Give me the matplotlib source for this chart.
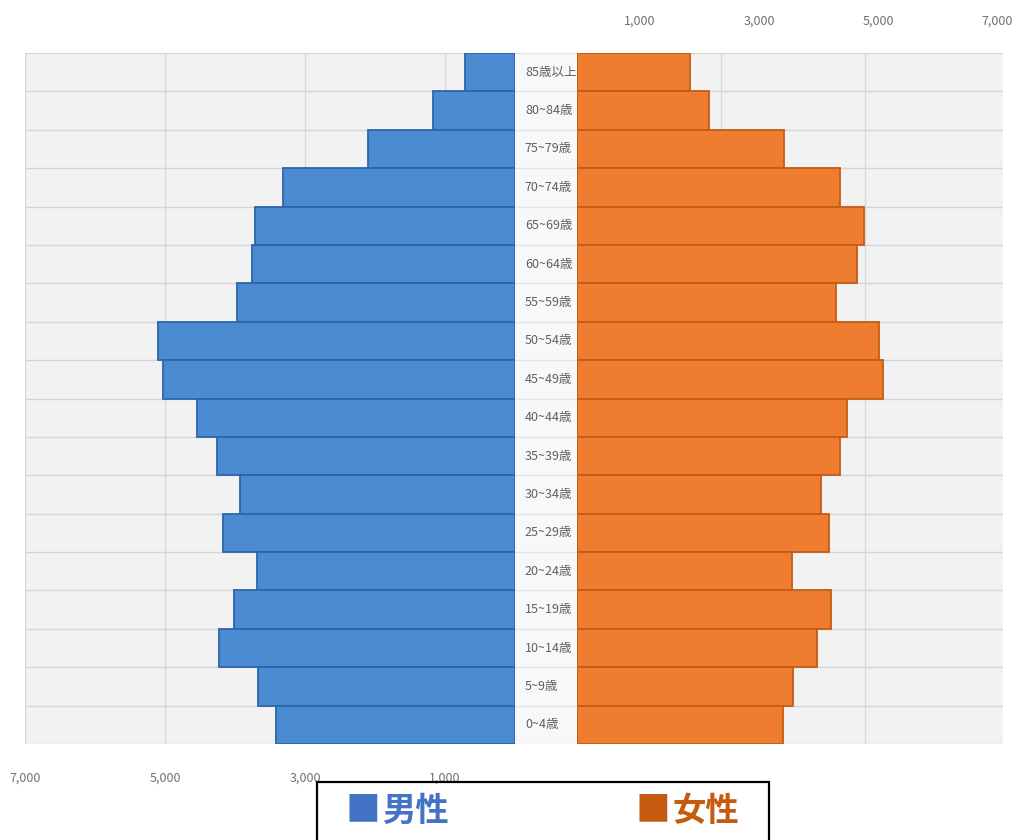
import matplotlib

matplotlib.use("Agg")
import matplotlib.pyplot as plt
from matplotlib.patches import Rectangle
import numpy as np

# age groups, top of pyramid first
AGES = ["85歳以上", "80~84歳", "75~79歳", "70~74歳", "65~69歳", "60~64歳",
        "55~59歳", "50~54歳", "45~49歳", "40~44歳", "35~39歳", "30~34歳",
        "25~29歳", "20~24歳", "15~19歳", "10~14歳", "5~9歳", "0~4歳"]
MALE = [714, 1171, 2100, 3314, 3714, 3757, 3971, 5100, 5029, 4543, 4257, 3929,
        4171, 3686, 4014, 4229, 3671, 3414]
FEMALE = [1569, 1833, 2875, 3653, 3986, 3889, 3597, 4194, 4250, 3750, 3653, 3389,
          3500, 2986, 3528, 3333, 3000, 2861]
LEFT_TICKS = [7000, 5000, 3000, 1000]
RIGHT_TICKS = [1000, 3000, 5000, 7000]
RIGHT_GRID = [2000, 4000]
LEGEND = ["男性", "女性"]

W, H = 1026, 840
BLUE, BLUE_EDGE = "#4a8bd2", "#2b66ab"
ORANGE, ORANGE_EDGE = "#ef7d2f", "#c45c14"
BG = "#f2f2f2"
NARROW = ["Liberation Sans Narrow", "Noto Sans CJK JP", "DejaVu Sans"]

n = len(AGES)
y = np.arange(n)[::-1]

fig = plt.figure(figsize=(W / 100, H / 100), dpi=100)
top, bot = 53, 744
yb, hh = (H - bot) / H, (bot - top) / H
axL = fig.add_axes([25 / W, yb, 490 / W, hh])
axM = fig.add_axes([515 / W, yb, 62 / W, hh])
axR = fig.add_axes([577 / W, yb, 426 / W, hh])

for ax in (axL, axM, axR):
    ax.set_ylim(-0.5, n - 0.5)
    ax.set_yticks([])
    ax.set_yticks(np.arange(-0.5, n, 1), minor=True)
    ax.tick_params(which="both", length=0)
    ax.grid(axis="y", which="minor", color="#d4d4d4", lw=1)
    ax.set_axisbelow(True)
    for s in ax.spines.values():
        s.set_visible(False)

# ---- male (left) ----
axL.set_facecolor(BG)
axL.barh(y, MALE, height=1.0, color=BLUE, edgecolor=BLUE_EDGE, lw=1.3, zorder=3)
axL.set_xlim(7000, 0)
axL.set_xticks(LEFT_TICKS)
axL.set_xticklabels([f"{v:,}" for v in LEFT_TICKS], family=NARROW)
axL.tick_params(axis="x", pad=20, labelsize=9, labelcolor="#707070")
axL.grid(axis="x", color="#dadada", lw=1)

# ---- age labels (centre) ----
axM.set_facecolor("#f8f8fa")
axM.set_xlim(0, 1)
axM.set_xticks([])
axM.grid(axis="y", which="minor", color="#e4e4e4", lw=1)
for yi, lab in zip(y, AGES):
    axM.text(0.16, yi, lab, ha="left", va="center", fontsize=9, color="#606060",
             family=NARROW, clip_on=True)

# ---- female (right) ----
axR.set_facecolor(BG)
axR.barh(y, FEMALE, height=1.0, color=ORANGE, edgecolor=ORANGE_EDGE, lw=1.3, zorder=3)
axR.set_xlim(0, 5920)
axR.set_xticks(RIGHT_GRID)
axR.set_xticklabels([])
axR.grid(axis="x", color="#dadada", lw=1)

axT = axR.twiny()
axT.set_xlim(-60, 7100)
axT.set_xticks(RIGHT_TICKS)
axT.set_xticklabels([f"{v:,}" for v in RIGHT_TICKS], family=NARROW)
axT.tick_params(axis="x", length=0, pad=18, labelsize=9, labelcolor="#707070")
for s in axT.spines.values():
    s.set_visible(False)

# ---- legend box ----
fig.add_artist(Rectangle((317 / W, -0.1), (769 - 317) / W, 0.1 + 1 - 782 / H,
                         transform=fig.transFigure, fill=False, edgecolor="black",
                         lw=1.6, clip_on=False))
for xpx, lab, col in [(346, LEGEND[0], "#4472c4"), (636, LEGEND[1], "#c55a11")]:
    fig.text(xpx / W, 1 - 811 / H, "■", fontsize=25, color=col,
             family="Noto Sans CJK JP", ha="left", va="center")
    fig.text((xpx + 36) / W, 1 - 811 / H, lab, fontsize=24, color=col,
             family="Noto Sans CJK JP", weight="bold", ha="left", va="center")

fig.savefig("out.png", dpi=100)
